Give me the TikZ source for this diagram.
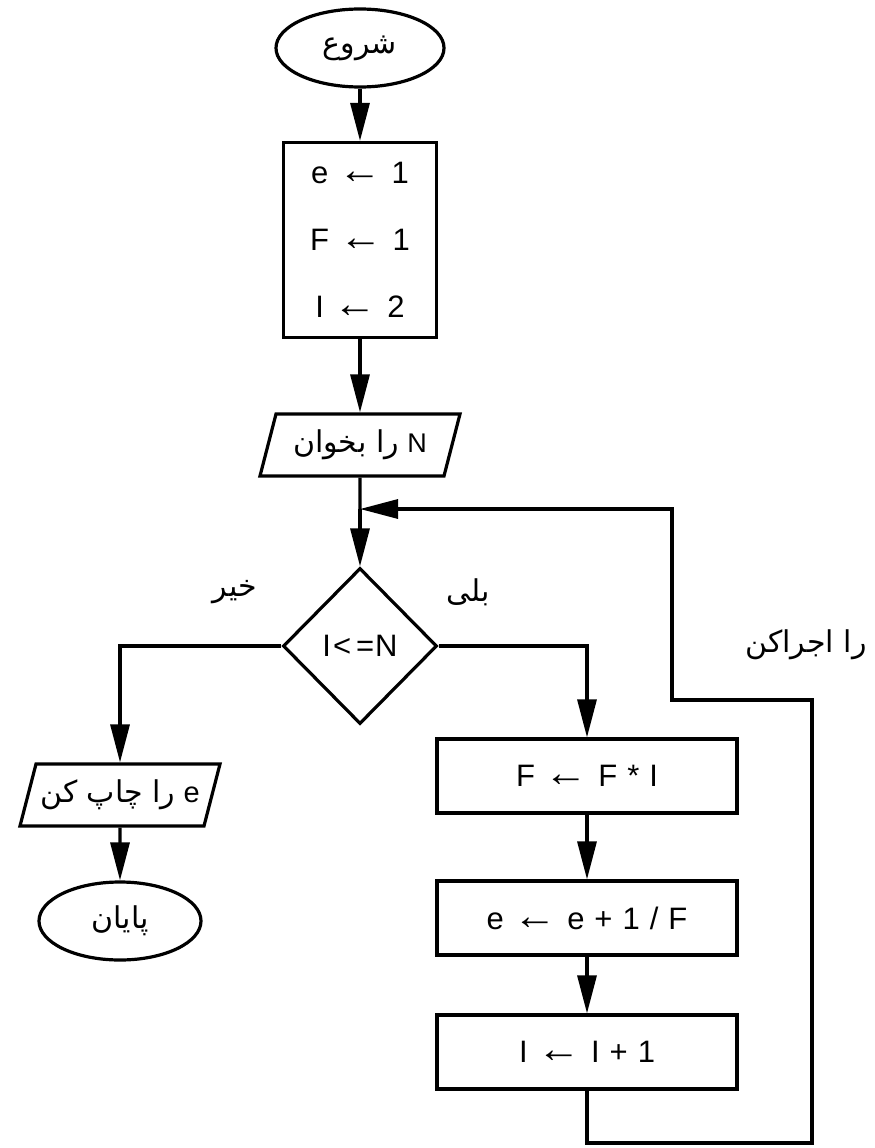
\documentclass[tikz,border=0pt]{standalone}
\usepackage{fontspec}
\setmainfont{Liberation Sans}
\newfontfamily\persfont[Script=Arabic]{DejaVu Sans}
\TeXXeTstate=1
\usetikzlibrary{shapes.geometric, arrows.meta}
\newcommand{\fa}[1]{{\persfont\beginR #1\endR}}
\newcommand{\la}{\scalebox{1.4}[1.3]{←}}
\newcommand{\widesp}{\spaceskip 10pt\relax}

\begin{document}
\begin{tikzpicture}[x=1pt,y=-1pt,>={Triangle[length=38pt,width=19pt]},line width=3.2pt,
        terminal/.style={draw,ellipse,minimum width=168pt,minimum height=78pt,inner sep=0pt,font=\fontsize{30}{34}\selectfont},
        process/.style={draw,rectangle,minimum width=300pt,minimum height=74pt,inner sep=0pt,font=\fontsize{31}{36}\selectfont\widesp},
        io/.style={draw,trapezium,trapezium left angle=62,trapezium right angle=118,trapezium stretches body,minimum width=200pt,minimum height=62pt,inner sep=0pt,font=\fontsize{30}{34}\selectfont},
        decision/.style={draw,diamond,minimum width=154pt,minimum height=156pt,inner sep=0pt,font=\fontsize{31}{36}\selectfont},
        lbl/.style={font=\fontsize{30}{34}\selectfont}]
        \useasboundingbox (0,0) rectangle (875,1148);
        % main column
        \node[terminal](start) at (360,48) {\fa{شروع}};
        \node[draw,rectangle,minimum width=153pt,minimum height=195pt,align=center,font=\fontsize{31}{67}\selectfont\widesp](init) at (360,240) {e \la{} 1\\F \la{} 1\\I \la{} 2};
        \node[io](read) at (360,445) {\beginR{\fontsize{27}{30}\selectfont N} {\persfont را بخوان}\endR};
        \coordinate (join) at (360,509);
        \node[decision](cond) at (360,646) {I\hspace{2pt}<\hspace{5pt}=\hspace{1pt}N};
        % left branch
        \node[io](print) at (120,795) {\beginR{\fontsize{29}{30}\selectfont e} {\persfont را چاپ کن}\endR};
        \node[terminal,minimum width=162pt](stop) at (120,921) {\fa{پایان}};
        % right branch
        \node[process](fact) at (587,776) {F \la{} F * I};
        \node[process](sum) at (587,918) {e \la{} e + 1 / F};
        \node[process](inc) at (587,1052) {I \la{} I + 1};
        % labels
        \node[lbl](no) at (235,592) {\fa{خیر}};
        \node[lbl](yes) at (468,592) {\fa{بلی}};
        \node[lbl](again) at (806,645) {\fa{را اجراکن}};
        \path[->] (start) edge (init)
                  (init)  edge (read)
                  (fact)  edge (sum)
                  (sum)   edge (inc)
                  (print) edge (stop);
        \draw (read.south) -- (join);
        \draw[->] (join) -- (cond.north);
        \draw[->] (cond.west) -| (print.north);
        \draw[->] (cond.east) -| (fact.north);
        \draw[->] (inc.south) |- (812,1143) |- (672,700) |- (join);
    \end{tikzpicture}
\end{document}
